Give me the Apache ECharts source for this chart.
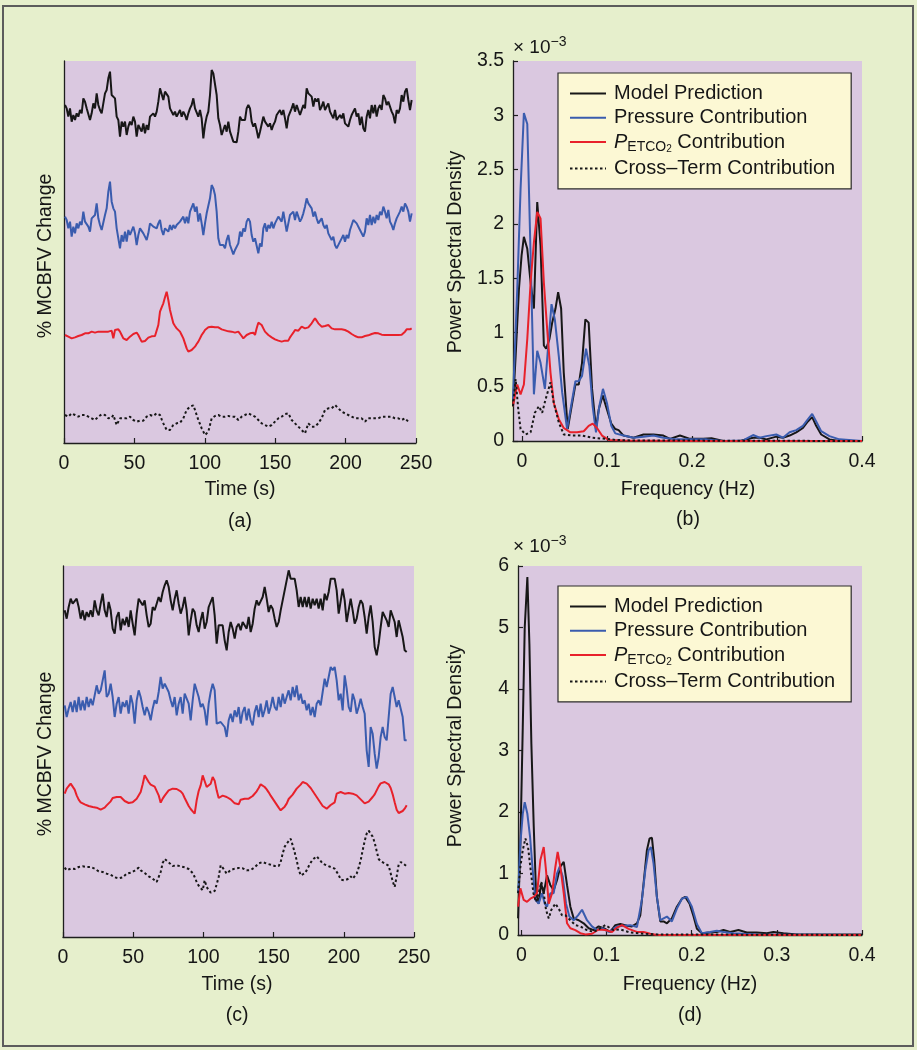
<!DOCTYPE html>
<html><head><meta charset="utf-8">
<script src="https://cdn.jsdelivr.net/npm/echarts@6/dist/echarts.min.js"></script>
<style>html,body{margin:0;padding:0;background:#fff}#chart{width:917px;height:1050px}</style>
</head><body><div id="chart"></div>
<script>
// ---------------- DATA ----------------
const SERIES_NAMES = ['Model Prediction', 'Pressure Contribution', 'PETCO2 Contribution', 'Cross\u2013Term Contribution'];
const TIME_TICKS = [0, 50, 100, 150, 200, 250];
const FREQ_TICKS = [0, 0.1, 0.2, 0.3, 0.4];

// Panel (a): time traces, uniformly sampled (start, step in s); values are % change (arbitrary scale), stacked by offsets
const A_T0 = 0.71, A_DT = 1.1837;
const A_OFFSETS = [984, 664, 329, 74];
const A_MODEL = [30,20,-5,20,-20,0,-15,5,-5,15,5,
 50,40,20,15,-15,5,35,20,65,30, 15,5,0,65,75,110,130,60,65,50,
 -5,-15,-65,-20,-35,-20,-60,-35,-20,-30, -5,-20,-65,-30,-25,-50,-25,-55,-30,-45,
 -5,0,5,-5,10,40,80,75,45,70, 65,55,20,15,0,10,-5,5,15,-5,
 10,0,-15,5,20,30,50,20,15,-5, 15,-10,-70,-30,-5,10,60,135,125,130,
 60,-10,-30,-60,-45,-30,-50,-20,-50,-55, -80,-75,-82,-50,-5,-15,-10,-15,20,30,
 20,-20,-35,-25,-45,-70,-50,-45,-5,-20, -15,-35,-25,-45,-30,-20,0,-5,15,0,
 15,-10,-40,-5,0,20,35,10,30,25, 0,15,30,20,80,65,70,55,25,50,
 40,50,15,25,40,15,25,35,10,5, -10,15,-15,-15,0,-10,5,-25,-20,-35,
 -15,0,10,20,-5,5,-30,-5,-40,-50, -5,15,-10,30,5,30,-5,20,30,15,
 60,50,30,40,25,10,0,-25,15,5, 20,60,40,70,80,45,15,45];
const A_PRESSURE = [15,5,-20,0,-45,-15,-35,-5,-20,0,-10,
 30,0,-5,-15,-30,10,5,20,55,10, -10,-25,-20,20,40,90,120,60,40,30,
 -20,-25,-80,-40,-60,-30,-60,-25,-40,-45, -15,-35,-70,-40,-20,-25,-35,-45,-55,-35,
 -5,0,-15,-10,-20,-5,5,-25,-40,-20, -25,-30,-10,-25,-10,-20,-10,-15,0,-5,
 15,-5,15,-5,30,35,55,30,45,0, 25,-5,-40,-5,25,30,70,110,100,80,
 30,-50,-70,-75,-70,-80,-55,-40,-70,-75, -98,-85,-90,-65,-30,-45,-20,-30,0,10,
 0,-40,-60,-50,-55,-95,-65,-75,-20,-5, -30,-10,-20,0,-20,-5,-10,15,20,0,
 30,0,-30,-5,20,15,30,5,30,15, 0,10,25,45,70,55,60,40,15,30,
 10,-5,0,10,-10,-20,-10,-35,-40,-55, -45,-70,-80,-75,-60,-50,-40,-60,-40,-50,
 -25,-10,5,10,-5,-10,-25,-30,-45,-30, 10,-10,20,-10,15,-5,20,5,30,20,
 45,30,10,35,0,-10,-25,-5,10,5, 30,45,30,55,45,30,0,25];
const A_PETCO2 = [-5,-7,-10,-13,-15,-13,-12,-10,-8,-6,-5,
 -2,0,0,0,2,5,3,2,4,5, 5,5,5,5,5,5,6,8,-15,10,
 15,12,5,-5,-15,-18,-20,-15,-10,-5, -2,0,2,-5,-15,-25,-28,-23,-18,-13,
 -10,-9,-8,-8,-8,25,65,78,90,108, 125,100,70,50,30,22,15,10,5,-5,
 -15,-30,-45,-55,-56,-50,-45,-40,-32,-25, -15,-5,2,10,14,18,19,20,19,18,
 22,18,15,12,10,9,8,6,5,5, 5,2,0,5,0,-8,-15,-10,-5,-2,
 0,1,2,-5,15,32,32,25,15,5, 0,-5,-8,-12,-15,-18,-20,-22,-24,-25,
 -24,-22,-22,-22,-12,-5,2,10,9,8, 14,20,18,15,10,18,24,30,38,45,
 38,30,25,20,21,22,24,25,20,15, 13,12,12,12,12,12,11,10,7,5,
 2,-2,-5,-8,-10,-12,-14,-12,-8,-8, -8,-6,-5,-2,0,1,2,0,-2,-4,
 -5,-5,-5,-5,-5,-5,-5,-5,-5,-5, -5,-4,-2,5,12,12,12,15];
const A_CROSS = [10,8,5,10,15,12,10,7,5,8,10,
 10,10,7,5,2,0,-3,-5,0,5, 8,12,15,10,5,0,-5,2,10,-5,
 -20,-15,0,0,0,0,0,3,5,0, -5,-8,-10,-8,-7,-7,-7,-1,5,8,
 10,8,7,11,15,13,10,-3,-15,-25, -35,-35,-35,-27,-20,-17,-15,-14,-13,-7,
 0,13,25,30,35,38,39,25,10,-5, -17,-30,-40,-50,-45,-40,-20,0,5,7,
 9,10,8,5,5,5,6,7,6,5, 5,5,0,-5,0,5,8,10,13,15,
 13,10,8,5,0,-5,-10,-15,-17,-20, -22,-25,-22,-20,-15,-10,-5,0,3,5,
 9,13,15,15,5,-5,-10,-15,-20,-25, -30,-35,-40,-45,-30,-15,-20,-25,-25,-25,
 -20,-15,-7,0,13,25,28,30,30,30, 35,40,35,30,25,20,17,15,13,10,
 8,5,3,0,0,0,0,0,-5,-10, -5,0,0,0,0,0,0,0,3,5,
 5,5,5,5,5,5,3,0,0,0, -2,-5,-2,0,-5,-10,-7];

// Panel (c)
const C_T0 = 1.19, C_DT = 1.4245;
const C_OFFSETS = [960, 690, 410, 210];
const C_MODEL = [20,-5,30,55,40,40,55,30,-5,
 20,-10,15,0,20,0,50,20,5,40, 70,20,0,45,20,-35,-50,0,15,-40,
 -5,-25,0,-30,20,-20,-55,10,55,55, 35,50,5,-30,-20,30,20,40,60,45,
 75,95,110,90,50,20,55,80,40,10, 30,60,20,-55,-10,25,15,-25,-45,-10,
 15,-35,-15,30,45,60,5,-80,-25,-20, -25,-70,-100,-45,-15,-35,-65,-30,-20,-40,
 -15,-10,-35,0,-45,-20,25,50,35,30, 60,90,55,15,35,25,-5,-30,-15,20,
 25,80,110,140,115,120,115,80,30,60, 30,60,30,60,25,55,35,55,25,55,
 20,70,50,75,115,110,115,80,10,5, 85,50,-15,-10,55,20,-20,-5,30,50,
 40,0,-50,0,35,-15,-90,-115,-80,-30, 15,10,-10,-30,20,15,-15,-60,-10,-5,
 -60,-100,-105];
const C_PRESSURE = [5,-30,-5,15,-15,20,-15,30,-10,
 20,-10,30,0,25,5,35,65,40,50, 80,110,30,40,70,30,-30,10,30,-20,
 15,0,20,-20,35,10,-50,20,50,30, 0,-25,0,-15,-40,-5,20,10,45,90,
 55,70,70,45,20,0,30,-25,10,30, -20,40,45,10,-40,20,70,65,30,0,
 10,-10,-55,10,45,70,50,-50,-50,-45, -50,-60,-90,-40,-20,-45,-10,-30,0,-50,
 -15,0,-40,-5,-40,-55,-15,5,-30,10, -30,-10,20,-20,0,30,0,-10,30,0,
 40,10,30,50,20,60,30,65,20,40, 10,20,-10,10,-25,0,-30,10,20,5,
 45,85,60,90,120,110,120,80,20,40, -10,95,55,0,-15,40,20,-20,0,25,
 0,-20,-130,-180,-60,-80,-140,-185,-150,-90, -60,-90,-100,-30,40,60,30,0,20,25,
 -30,-100,-100];
const C_PETCO2 = [20,35,43,50,45,32,15,2,-6,
 -9,-12,-15,-17,-18,-20,-21,-22,-25,-28, -28,-22,-15,-10,-3,7,10,10,10,10,
 10,-2,-8,-8,-8,-6,-3,5,0,25, 48,75,72,55,47,42,41,45,15,-7,
 5,14,20,30,35,35,35,34,31,27, 20,7,-5,-17,-26,-33,-40,0,28,45,
 75,74,40,46,50,70,59,30,7,3, 14,16,10,7,3,-3,-9,-15,-12,2,
 0,5,5,5,8,13,19,27,37,48, 44,40,33,24,14,5,-4,-13,-22,-30,
 -26,-19,-10,4,5,17,26,35,41,47, 55,53,50,44,37,28,19,10,1,-8,
 -17,-22,-25,-19,-14,-11,-6,20,25,25, 24,20,21,22,21,20,20,15,9,3,
 -3,-9,-8,-4,2,10,18,30,42,51, 55,55,53,48,37,18,-6,-28,-38,-39,
 -32,-25,-15];
const C_CROSS = [-2,-10,-7,-5,-9,-6,0,0,0,
 2,1,0,0,0,-2,-5,-10,-13,-15, -15,-17,-20,-21,-23,-28,-31,-32,-34,-34,
 -31,-26,-20,-19,-17,-13,-11,-10,-2,-10, -14,-18,-22,-28,-33,-35,-39,-45,-45,-15,
 12,24,20,14,8,3,3,5,3,2, 0,-1,-2,-6,-10,-18,-30,-45,-56,-55,
 -70,-40,-60,-69,-77,-82,-72,-52,-30,5, -2,-11,-20,-14,-9,-6,-5,-5,-3,-3,
 -4,-7,-10,-10,-9,-6,-1,5,11,15, 15,13,10,9,7,5,3,0,3,15,
 40,61,70,76,85,65,44,20,-7,-25, -25,-19,-10,2,13,22,28,32,25,18,
 10,7,5,2,0,-2,-5,-10,-24,-38, -44,-40,-38,-35,-28,-35,-32,-20,-2,20,
 50,78,100,109,103,91,73,48,24,17, 14,11,8,4,-19,-43,-60,-28,7,15,
 15,7,2];

// Panel (b): power spectral density (x 10^-3) as [frequency Hz, value]
const B_MODEL = [[-0.0106,0.32],[-0.0074,0.78],[-0.0035,1.4],[-0.0004,1.71],[0.0023,1.88],[0.0063,1.77],[0.0102,1.46],[0.0141,1.22],[0.018,2.2],[0.0219,1.8],[0.0258,0.88],[0.0285,0.85],[0.0324,0.94],[0.0356,1.09],[0.0395,1.22],[0.0426,1.37],[0.0461,1.22],[0.0492,0.63],[0.0539,0.11],[0.0578,0.29],[0.0629,0.52],[0.0668,0.52],[0.0707,0.72],[0.0746,1.12],[0.0785,1.09],[0.0825,0.48],[0.0871,0.11],[0.0903,0.29],[0.095,0.42],[0.1,0.29],[0.1051,0.16],[0.1098,0.11],[0.1137,0.1],[0.1195,0.05],[0.1313,0.03],[0.143,0.06],[0.1547,0.06],[0.1664,0.05],[0.1742,0.02],[0.1859,0.05],[0.1977,0.02],[0.2133,0.02],[0.223,0.025],[0.2367,0.0],[0.2563,0.0],[0.2719,0.03],[0.2797,0.03],[0.2875,0.015],[0.2992,0.04],[0.307,0.03],[0.3148,0.05],[0.3227,0.08],[0.3305,0.12],[0.3363,0.18],[0.3414,0.22],[0.3461,0.14],[0.352,0.06],[0.3617,0.015],[0.3734,0.0],[0.4,0.0]];
const B_PRESSURE = [[-0.0106,0.38],[-0.0055,1.4],[-0.0016,2.32],[0.0023,3.02],[0.0063,2.92],[0.0102,1.71],[0.0141,0.43],[0.018,0.83],[0.0219,0.72],[0.027,0.48],[0.0309,0.88],[0.0348,1.26],[0.0387,1.12],[0.0434,0.78],[0.0473,0.45],[0.0531,0.11],[0.0578,0.32],[0.0629,0.55],[0.0668,0.55],[0.0707,0.6],[0.0754,0.85],[0.0793,0.69],[0.0832,0.32],[0.0871,0.08],[0.091,0.32],[0.0953,0.48],[0.1,0.35],[0.1051,0.14],[0.1098,0.07],[0.1195,0.05],[0.1313,0.03],[0.143,0.04],[0.1547,0.05],[0.1664,0.03],[0.182,0.015],[0.1977,0.015],[0.2172,0.015],[0.2367,0.0],[0.2602,0.005],[0.2719,0.055],[0.2797,0.03],[0.2875,0.045],[0.2992,0.06],[0.307,0.03],[0.3148,0.08],[0.3227,0.1],[0.3305,0.14],[0.3363,0.2],[0.3414,0.25],[0.3461,0.18],[0.352,0.09],[0.3617,0.045],[0.3734,0.015],[0.4,0.0]];
const B_PETCO2 = [[-0.0106,0.32],[-0.0055,0.52],[-0.0016,0.43],[0.0023,0.52],[0.0063,0.94],[0.0102,1.46],[0.0141,1.83],[0.018,2.11],[0.0219,2.05],[0.0258,1.46],[0.0297,1.03],[0.0336,0.63],[0.0375,0.35],[0.0434,0.2],[0.0492,0.12],[0.057,0.08],[0.0649,0.08],[0.0727,0.09],[0.0785,0.14],[0.0832,0.16],[0.0883,0.12],[0.0942,0.05],[0.102,0.01],[0.12,0.005],[0.15,0.003],[0.2,0.0],[0.4,0.0]];
const B_CROSS = [[-0.0106,0.32],[-0.0074,0.57],[-0.0043,0.29],[-0.0016,0.11],[0.0043,0.06],[0.0102,0.08],[0.0152,0.26],[0.0199,0.32],[0.0238,0.26],[0.0277,0.38],[0.0336,0.54],[0.0375,0.35],[0.0434,0.17],[0.0492,0.06],[0.059,0.05],[0.0707,0.05],[0.0825,0.03],[0.0981,0.02],[0.11,0.01],[0.13,0.005],[0.4,0.0]];

// Panel (d)
const D_MODEL = [[-0.0039,0.27],[-0.0012,1.49],[0.0016,3.38],[0.0039,5.0],[0.007,5.82],[0.0094,4.73],[0.0117,3.11],[0.0145,1.76],[0.0172,0.68],[0.0203,0.51],[0.0231,0.84],[0.0262,0.68],[0.0301,0.97],[0.034,0.81],[0.0379,0.73],[0.0418,0.89],[0.0457,1.11],[0.0497,1.19],[0.0536,0.81],[0.0575,0.46],[0.0614,0.27],[0.0673,0.24],[0.0731,0.19],[0.079,0.11],[0.0848,0.08],[0.0907,0.14],[0.0966,0.11],[0.1044,0.05],[0.1103,0.16],[0.1161,0.18],[0.124,0.15],[0.1298,0.14],[0.1357,0.19],[0.1396,0.32],[0.1435,0.84],[0.1474,1.38],[0.1505,1.57],[0.1533,1.58],[0.156,1.22],[0.1591,0.62],[0.1631,0.22],[0.167,0.22],[0.1709,0.19],[0.1767,0.27],[0.1826,0.46],[0.1885,0.59],[0.1924,0.62],[0.1975,0.51],[0.2022,0.3],[0.2061,0.1],[0.2119,0.03],[0.2217,0.04],[0.2295,0.05],[0.2373,0.08],[0.2452,0.05],[0.2549,0.08],[0.2647,0.04],[0.2764,0.04],[0.2882,0.03],[0.296,0.05],[0.3077,0.03],[0.3234,0.01],[0.4,0.01]];
const D_PRESSURE = [[-0.0039,0.68],[-0.0012,1.49],[0.0016,1.97],[0.0039,2.16],[0.007,1.97],[0.0102,1.59],[0.0133,1.05],[0.0164,0.57],[0.0203,0.51],[0.0242,0.68],[0.0274,0.51],[0.0301,0.46],[0.034,0.68],[0.0379,0.68],[0.0418,1.0],[0.045,1.11],[0.0485,0.95],[0.0524,0.51],[0.0563,0.3],[0.0614,0.24],[0.0665,0.32],[0.0712,0.41],[0.077,0.24],[0.0829,0.14],[0.0888,0.08],[0.0946,0.11],[0.1024,0.05],[0.1044,0.08],[0.1122,0.14],[0.12,0.15],[0.1279,0.16],[0.1357,0.13],[0.1415,0.57],[0.1455,1.05],[0.1494,1.38],[0.1521,1.43],[0.1552,1.16],[0.1591,0.62],[0.1631,0.24],[0.167,0.27],[0.1709,0.3],[0.1767,0.22],[0.1826,0.43],[0.1885,0.59],[0.1943,0.62],[0.2002,0.46],[0.2061,0.18],[0.2119,0.03],[0.2217,0.05],[0.2295,0.07],[0.2373,0.05],[0.2491,0.03],[0.2608,0.02],[0.2764,0.01],[0.4,0.0]];
const D_PETCO2 = [[-0.0039,0.46],[-0.0012,0.76],[0.0027,0.57],[0.0066,0.54],[0.0106,0.59],[0.0145,0.62],[0.0184,0.68],[0.0223,1.22],[0.0262,1.43],[0.0289,1.05],[0.0321,0.51],[0.036,0.68],[0.0399,1.11],[0.0426,1.35],[0.0457,1.11],[0.0497,0.68],[0.0536,0.19],[0.0575,0.11],[0.0633,0.08],[0.0692,0.03],[0.0751,0.01],[0.0829,0.02],[0.0907,0.09],[0.0985,0.08],[0.1064,0.05],[0.1122,0.12],[0.1181,0.16],[0.1259,0.1],[0.1357,0.05],[0.1435,0.05],[0.1513,0.02],[0.1591,0.0],[0.4,0.0]];
const D_CROSS = [[-0.0039,0.68],[-0.0012,1.11],[0.0016,1.38],[0.0047,1.57],[0.0078,1.43],[0.0109,1.05],[0.0141,0.68],[0.0172,0.54],[0.0203,0.68],[0.0235,0.86],[0.0262,0.68],[0.0289,0.41],[0.0321,0.27],[0.0352,0.41],[0.0399,0.51],[0.0438,0.43],[0.0477,0.32],[0.0516,0.32],[0.0575,0.24],[0.0633,0.16],[0.0692,0.14],[0.077,0.08],[0.0848,0.05],[0.0927,0.11],[0.0985,0.16],[0.1044,0.11],[0.1083,0.08],[0.1161,0.09],[0.1279,0.04],[0.1435,0.02],[0.1591,0.01],[0.4,0.0]];

// ---------------- CHART ----------------
const FONT = '"Liberation Sans", Arial, Helvetica, sans-serif';
const TXT = '#161616';
const LINE_STYLES = [
  { color: '#171717', type: 'solid' },
  { color: '#3a5cae', type: 'solid' },
  { color: '#e8212b', type: 'solid' },
  { color: '#171717', type: [2.5, 2.5] }
];

function timeData(values, t0, dt, offset) {
  return values.map((v, i) => [t0 + i * dt, v + offset]);
}

const chart = echarts.init(document.getElementById('chart'), null, { renderer: 'canvas' });

const grids = [
  { left: 64, top: 61, width: 352, height: 382 },
  { left: 513, top: 61, width: 349, height: 380 },
  { left: 63, top: 566, width: 351, height: 371 },
  { left: 518, top: 566, width: 344, height: 369 }
].map(g => Object.assign({ show: true, backgroundColor: '#dac8e0', borderWidth: 0, containLabel: false }, g));

const axisLine = { show: true, onZero: false, lineStyle: { color: '#1e1e1e', width: 1.3 } };
const axisTick = { show: true, inside: true, length: 5, lineStyle: { color: '#1e1e1e', width: 1.2 } };
const axisLabelBase = { color: TXT, fontSize: 19.5, fontFamily: FONT, margin: 11 };

function timeXAxis(gi) {
  return { type: 'value', gridIndex: gi, min: 0, max: 250, interval: 50,
    axisLine, axisTick, splitLine: { show: false },
    axisLabel: Object.assign({}, axisLabelBase, { customValues: TIME_TICKS }) };
}
function freqXAxis(gi, min) {
  return { type: 'value', gridIndex: gi, min: min, max: 0.4,
    axisLine, splitLine: { show: false },
    axisTick: Object.assign({}, axisTick, { customValues: FREQ_TICKS }),
    axisLabel: Object.assign({}, axisLabelBase, { customValues: FREQ_TICKS, showMinLabel: true, showMaxLabel: true }) };
}
function hiddenYAxis(gi, max) {
  return { type: 'value', gridIndex: gi, min: 0, max: max, axisLine,
    axisTick: { show: false }, axisLabel: { show: false }, splitLine: { show: false } };
}
function psdYAxis(gi, max, interval) {
  return { type: 'value', gridIndex: gi, min: 0, max: max, interval: interval, axisLine, axisTick,
    splitLine: { show: false }, axisLabel: Object.assign({}, axisLabelBase, { margin: 9 }) };
}

const series = [];
function addSet(datasets, axisIdx) {
  datasets.forEach((d, k) => {
    series.push({
      type: 'line', name: SERIES_NAMES[k], xAxisIndex: axisIdx, yAxisIndex: axisIdx,
      data: d, symbol: 'none', showSymbol: false, smooth: false, clip: true,
      lineStyle: { color: LINE_STYLES[k].color, type: LINE_STYLES[k].type, width: 2 },
      itemStyle: { color: LINE_STYLES[k].color },
      emphasis: { disabled: true }, z: 2 + k
    });
  });
}
addSet([A_MODEL, A_PRESSURE, A_PETCO2, A_CROSS].map((v, k) => timeData(v, A_T0, A_DT, A_OFFSETS[k])), 0);
addSet([B_MODEL, B_PRESSURE, B_PETCO2, B_CROSS], 1);
addSet([C_MODEL, C_PRESSURE, C_PETCO2, C_CROSS].map((v, k) => timeData(v, C_T0, C_DT, C_OFFSETS[k])), 2);
addSet([D_MODEL, D_PRESSURE, D_PETCO2, D_CROSS], 3);

const legendRich = {
  n: { fontSize: 20, lineHeight: 24, fontFamily: FONT, color: TXT },
  i: { fontSize: 20, lineHeight: 24, fontFamily: FONT, fontStyle: 'italic', color: TXT },
  s: { fontSize: 14, lineHeight: 14, fontFamily: FONT, color: TXT, verticalAlign: 'bottom' },
  ss: { fontSize: 10, lineHeight: 8, fontFamily: FONT, color: TXT, verticalAlign: 'bottom' }
};
function makeLegend(top) {
  return {
    orient: 'vertical', left: 558, top: top, itemWidth: 36, itemHeight: 14, itemGap: 4.3,
    padding: [10.5, 16, 10.5, 11], backgroundColor: '#fcf8d4', borderColor: '#2a2a2a', borderWidth: 1.2,
    selectedMode: false, data: SERIES_NAMES, itemStyle: { opacity: 0 },
    textStyle: { fontSize: 20, fontFamily: FONT, color: TXT, padding: [0, 0, 0, 3], rich: legendRich },
    formatter: name => name === SERIES_NAMES[2]
      ? '{i|P}{s|ETCO}{ss|2}{n| Contribution}' : '{n|' + name + '}'
  };
}

function label(text, x, y, rot, size) {
  return { type: 'text', x: x, y: y, rotation: rot || 0, silent: true,
    style: { text: text, fill: TXT, font: (size || 19.5) + 'px ' + FONT, textAlign: 'center', textVerticalAlign: 'middle' } };
}
function expLabel(x, top) {
  return { type: 'text', x: x, y: top, silent: true,
    style: { text: '{m|\u00d7 10}{e|\u22123}', fill: TXT, textAlign: 'left', textVerticalAlign: 'top',
      rich: { m: { fontSize: 19, lineHeight: 22, fontFamily: FONT, fill: TXT, verticalAlign: 'bottom' },
              e: { fontSize: 14, lineHeight: 10, fontFamily: FONT, fill: TXT, verticalAlign: 'top' } } } };
}

const option = {
  animation: false,
  backgroundColor: '#e6efcc',
  grid: grids,
  xAxis: [timeXAxis(0), freqXAxis(1, -0.0105), timeXAxis(2), freqXAxis(3, -0.004)],
  yAxis: [hiddenYAxis(0, 1146), psdYAxis(1, 3.5, 0.5), hiddenYAxis(2, 1113), psdYAxis(3, 6, 1)],
  legend: [makeLegend(73), makeLegend(586)],
  series: series,
  graphic: [
    { type: 'rect', shape: { x: 3, y: 6, width: 910, height: 1040 }, silent: true,
      style: { fill: 'none', stroke: '#5c5c5c', lineWidth: 2 }, z: 100 },
    label('% MCBFV Change', 46, 256, Math.PI / 2),
    label('% MCBFV Change', 46, 754, Math.PI / 2),
    label('Power Spectral Density', 456, 252, Math.PI / 2),
    label('Power Spectral Density', 456, 746, Math.PI / 2),
    label('Time (s)', 240, 490),
    label('(a)', 240, 522),
    label('Frequency (Hz)', 688, 490),
    label('(b)', 688, 520),
    label('Time (s)', 237, 985),
    label('(c)', 237, 1016),
    label('Frequency (Hz)', 690, 985),
    label('(d)', 690, 1016),
    expLabel(513, 35),
    expLabel(513, 534)
  ]
};
chart.setOption(option);
</script></body></html>
